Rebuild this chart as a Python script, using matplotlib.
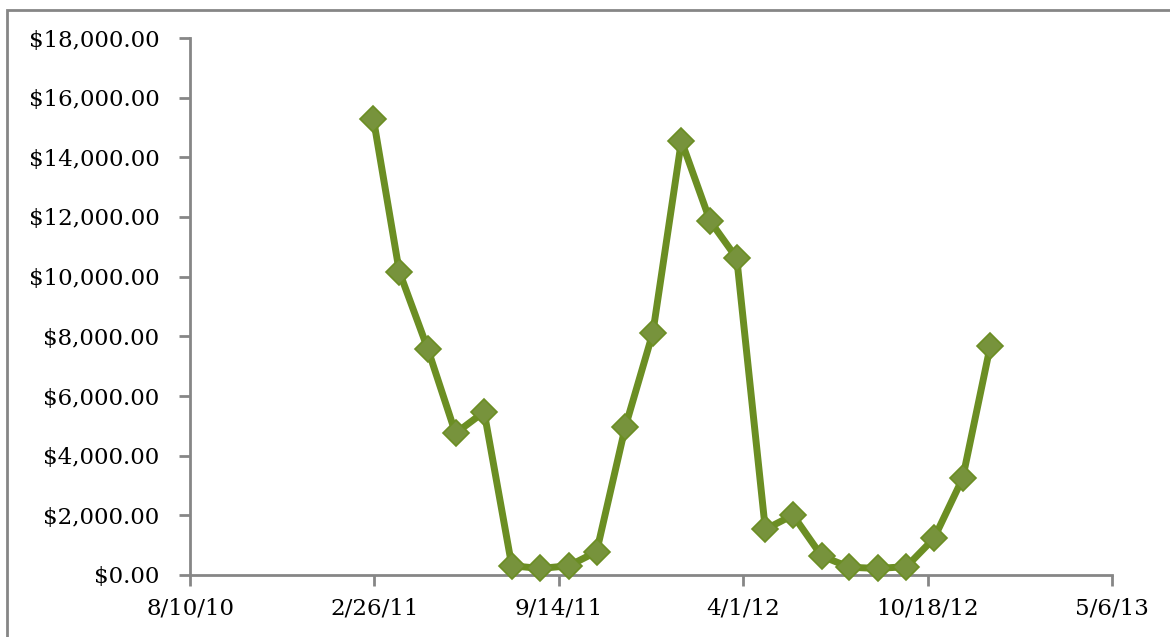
import datetime as dt
import matplotlib
matplotlib.use('Agg')
import matplotlib.pyplot as plt
import matplotlib.dates as mdates
from matplotlib.ticker import FuncFormatter, MultipleLocator
from matplotlib.patches import Rectangle

# monthly values
dates = ['2011-02-25', '2011-03-25', '2011-04-25', '2011-05-25', '2011-06-25',
         '2011-07-25', '2011-08-25', '2011-09-25', '2011-10-25', '2011-11-25',
         '2011-12-25', '2012-01-25', '2012-02-25', '2012-03-25', '2012-04-25',
         '2012-05-25', '2012-06-25', '2012-07-25', '2012-08-25', '2012-09-25',
         '2012-10-25', '2012-11-25', '2012-12-25']
values = [15280, 10170, 7570, 4750, 5470,
          310, 220, 310, 780, 4950,
          8120, 14550, 11870, 10620, 1530,
          2010, 640, 260, 220, 280,
          1230, 3240, 7680]

x_start = '2010-08-10'
x_end = '2013-05-06'
tick_step_days = 200

line_col = '#6B8E23'
marker_col = '#77933C'
axis_col = '#868686'

x = [dt.datetime.strptime(d, '%Y-%m-%d') for d in dates]
x0 = dt.datetime.strptime(x_start, '%Y-%m-%d')
x1 = dt.datetime.strptime(x_end, '%Y-%m-%d')

fig = plt.figure(figsize=(11.7, 6.37), dpi=100)
ax = fig.add_axes([190/1170, 1 - 575/637, (1112-190)/1170, (575-38)/637])

# outer chart border, cut off at right and bottom like the screenshot
fig.patches.append(Rectangle((7/1170, -0.05), 1.2, 1 - 10/637 + 0.05,
                             transform=fig.transFigure, fill=False,
                             edgecolor=axis_col, linewidth=2))

ax.plot(x, values, color=line_col, linewidth=5, marker='D', markersize=13,
        markerfacecolor=marker_col, markeredgecolor=line_col, markeredgewidth=1.2,
        clip_on=False, zorder=3)

ax.set_xlim(x0, x1)
ax.set_ylim(0, 18000)

ticks = [x0 + dt.timedelta(days=tick_step_days * i)
         for i in range(int((x1 - x0).days / tick_step_days) + 1)]
ax.set_xticks(ticks)
ax.xaxis.set_major_formatter(FuncFormatter(
    lambda v, p: (lambda d: '{}/{}/{:02d}'.format(d.month, d.day, d.year % 100))(mdates.num2date(v))))
ax.yaxis.set_major_locator(MultipleLocator(2000))
ax.yaxis.set_major_formatter(FuncFormatter(lambda v, p: '${:,.2f}'.format(v)))

for s in ['top', 'right']:
    ax.spines[s].set_visible(False)
for s in ['left', 'bottom']:
    ax.spines[s].set_color(axis_col)
    ax.spines[s].set_linewidth(2)

ax.tick_params(axis='both', direction='out', length=8, width=2, color=axis_col,
               labelsize=16.5, labelcolor='black')
ax.tick_params(axis='y', pad=14)
ax.tick_params(axis='x', pad=8)
for lab in ax.get_xticklabels() + ax.get_yticklabels():
    lab.set_family('DejaVu Serif')

fig.savefig('out.png', dpi=100)
